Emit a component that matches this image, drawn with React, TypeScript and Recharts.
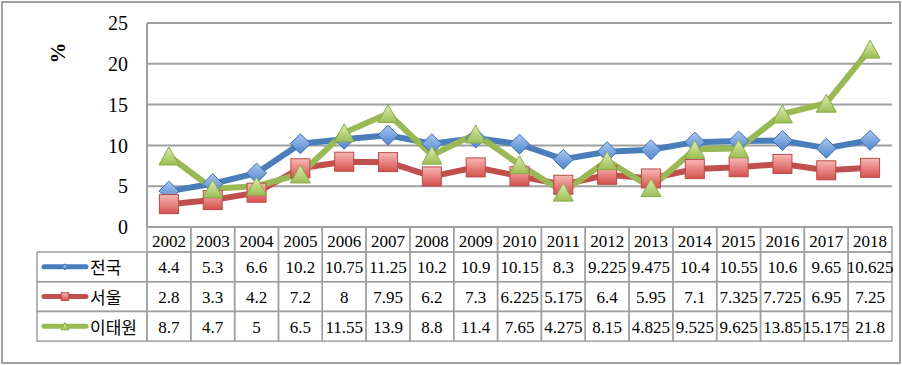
import React from 'react';
import { LineChart, Line, XAxis, YAxis, CartesianGrid } from 'recharts';

const years = ['2002', '2003', '2004', '2005', '2006', '2007', '2008', '2009', '2010', '2011', '2012', '2013', '2014', '2015', '2016', '2017', '2018'];
const national = [4.4, 5.3, 6.6, 10.2, 10.75, 11.25, 10.2, 10.9, 10.15, 8.3, 9.225, 9.475, 10.4, 10.55, 10.6, 9.65, 10.625];
const seoul = [2.8, 3.3, 4.2, 7.2, 8, 7.95, 6.2, 7.3, 6.225, 5.175, 6.4, 5.95, 7.1, 7.325, 7.725, 6.95, 7.25];
const itaewon = [8.7, 4.7, 5, 6.5, 11.55, 13.9, 8.8, 11.4, 7.65, 4.275, 8.15, 4.825, 9.525, 9.625, 13.85, 15.175, 21.8];
const seriesNames = ['전국', '서울', '이태원'];
const yTicks = [0, 5, 10, 15, 20, 25];

const data = years.map((y, i) => ({ year: y, national: national[i], seoul: seoul[i], itaewon: itaewon[i] }));
const rows = [national, seoul, itaewon];

const PLOT_L = 147;
const PLOT_R = 892;
const COL_W = (PLOT_R - PLOT_L) / years.length;
const HEAD_H = 25;
const ROW_H = 29.7;
const LEG_L = 37;
const GRID = '#a0a0a0';
const SERIF = '"Liberation Serif", "DejaVu Serif", serif';
const KR = '"Noto Sans CJK KR", "Noto Sans", sans-serif';

const colors = [
  { line: '#4a7ebb', stroke: '#3f6fae', fill: 'url(#gBlue)' },
  { line: '#c0504d', stroke: '#b84a47', fill: 'url(#gRed)' },
  { line: '#98b954', stroke: '#8aab48', fill: 'url(#gGreen)' },
];

const Marker = ({ kind, cx, cy, s }: { kind: number; cx: number; cy: number; s: number }) => {
  const c = colors[kind];
  if (kind === 0) {
    return <polygon points={`${cx},${cy - s} ${cx + s},${cy} ${cx},${cy + s} ${cx - s},${cy}`} fill={c.fill} stroke={c.stroke} strokeWidth={1} />;
  }
  if (kind === 1) {
    const h = s * 0.95;
    return <rect x={cx - h} y={cy - h} width={h * 2} height={h * 2} fill={c.fill} stroke={c.stroke} strokeWidth={1} />;
  }
  const h = s * 0.9;
  return <polygon points={`${cx},${cy - h} ${cx + s},${cy + h} ${cx - s},${cy + h}`} fill={c.fill} stroke={c.stroke} strokeWidth={1} />;
};

const TableTick = (props: any) => {
  const { x, y, payload, index } = props;
  const left = x - COL_W / 2;
  const cells = [];
  cells.push(<rect key="h" x={left} y={y} width={COL_W} height={HEAD_H} fill="none" stroke={GRID} strokeWidth={1.5} />);
  cells.push(
    <text key="ht" x={x} y={y + HEAD_H / 2 + 2} textAnchor="middle" dominantBaseline="central" fontFamily={SERIF} fontSize={17} fill="#000">
      {payload.value}
    </text>
  );
  rows.forEach((r, ri) => {
    const top = y + HEAD_H + ri * ROW_H;
    cells.push(<rect key={'r' + ri} x={left} y={top} width={COL_W} height={ROW_H} fill="none" stroke={GRID} strokeWidth={1.5} />);
    cells.push(
      <text key={'t' + ri} x={x} y={top + ROW_H / 2 + 1} textAnchor="middle" dominantBaseline="central" fontFamily={SERIF} fontSize={17} fill="#000">
        {String(r[index])}
      </text>
    );
  });
  if (index === 0) {
    seriesNames.forEach((n, ri) => {
      const top = y + HEAD_H + ri * ROW_H;
      const cy = top + ROW_H / 2;
      cells.push(<rect key={'l' + ri} x={LEG_L} y={top} width={left - LEG_L} height={ROW_H} fill="none" stroke={GRID} strokeWidth={1.5} />);
      cells.push(<line key={'ll' + ri} x1={44} y1={cy} x2={86} y2={cy} stroke={colors[ri].line} strokeWidth={5} strokeLinecap="round" />);
      cells.push(<Marker key={'lm' + ri} kind={ri} cx={65} cy={cy} s={ri === 0 ? 3 : 4} />);
      cells.push(
        <text key={'lt' + ri} x={90} y={cy} dominantBaseline="central" fontFamily={KR} fontSize={17} fill="#000">
          {n}
        </text>
      );
    });
  }
  return <g>{cells}</g>;
};

const makeDot = (kind: number) => (p: any) => <Marker key={p.index} kind={kind} cx={p.cx} cy={p.cy} s={10} />;

export default function App() {
  return (
    <div style={{ position: 'absolute', left: 0, top: 0, width: 902, height: 365, background: '#fff' }}>
      <LineChart width={902} height={365} data={data} margin={{ top: 23, right: 902 - PLOT_R, left: PLOT_L - 60, bottom: 108 }}>
        <defs>
          <linearGradient id="gBlue" x1="0" y1="0" x2="0" y2="1">
            <stop offset="0%" stopColor="#a9c6ee" />
            <stop offset="100%" stopColor="#4f86d0" />
          </linearGradient>
          <linearGradient id="gRed" x1="0" y1="0" x2="0" y2="1">
            <stop offset="0%" stopColor="#f8b9b7" />
            <stop offset="100%" stopColor="#d6504c" />
          </linearGradient>
          <linearGradient id="gGreen" x1="0" y1="0" x2="0" y2="1">
            <stop offset="0%" stopColor="#dcedb0" />
            <stop offset="100%" stopColor="#9bbf55" />
          </linearGradient>
        </defs>
        <CartesianGrid vertical={false} stroke={GRID} strokeWidth={2} />
        <XAxis
          dataKey="year"
          height={30}
          padding={{ left: COL_W / 2, right: COL_W / 2 }}
          axisLine={false}
          tickLine={false}
          tickSize={0}
          tickMargin={0}
          interval={0}
          tick={<TableTick />}
        />
        <YAxis
          width={60}
          domain={[0, 25]}
          ticks={yTicks}
          interval={0}
          axisLine={{ stroke: GRID, strokeWidth: 2 }}
          tickLine={false}
          tickSize={0}
          tickMargin={19}
          tick={{ fontFamily: SERIF, fontSize: 20, fill: '#000' }}
          label={{
            content: () => (
              <text x={58} y={53} transform="rotate(-90, 58, 53)" textAnchor="middle" dominantBaseline="central" fontFamily={SERIF} fontSize={21} fontWeight="bold" fill="#000">
                %
              </text>
            ),
          }}
        />
        <Line dataKey="national" stroke={colors[0].line} strokeWidth={6} dot={makeDot(0)} isAnimationActive={false} />
        <Line dataKey="seoul" stroke={colors[1].line} strokeWidth={6} dot={makeDot(1)} isAnimationActive={false} />
        <Line dataKey="itaewon" stroke={colors[2].line} strokeWidth={6} dot={makeDot(2)} isAnimationActive={false} />
      </LineChart>
      <div style={{ position: 'absolute', left: 1, top: 1, width: 900, height: 363, border: `2px solid ${GRID}`, boxSizing: 'border-box', pointerEvents: 'none' }} />
    </div>
  );
}
